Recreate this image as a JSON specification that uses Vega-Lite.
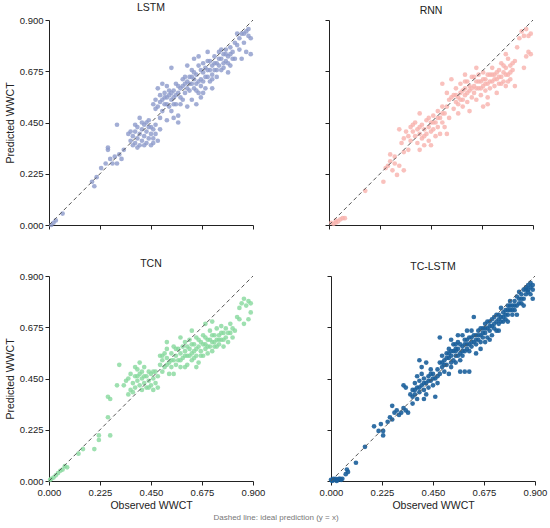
{
  "$schema": "https://vega.github.io/schema/vega-lite/v6.json",
  "padding": {"left": 5, "top": 2, "right": 5, "bottom": 2},
  "title": {"text": "Dashed line: ideal prediction (y = x)", "orient": "bottom", "anchor": "middle", "fontSize": 8, "fontWeight": "normal", "color": "#777", "offset": 3},
  "datasets": {
    "diag": [{"x": 0, "y": 0}, {"x": 0.9, "y": 0.9}],
    "lstm": [
      {"x":0.01,"y":0.0},{"x":0.02,"y":0.01},{"x":0.03,"y":0.02},{"x":0.06,"y":0.05},
      {"x":0.19,"y":0.19},{"x":0.2,"y":0.17},{"x":0.21,"y":0.21},{"x":0.23,"y":0.25},{"x":0.25,"y":0.27},{"x":0.26,"y":0.34},{"x":0.26,"y":0.33},{"x":0.27,"y":0.29},{"x":0.28,"y":0.27},{"x":0.29,"y":0.3},{"x":0.3,"y":0.27},{"x":0.31,"y":0.31},{"x":0.32,"y":0.29},{"x":0.3,"y":0.44},{"x":0.33,"y":0.33},
      {"x":0.36,"y":0.37},{"x":0.37,"y":0.39},{"x":0.38,"y":0.36},{"x":0.38,"y":0.41},{"x":0.39,"y":0.38},{"x":0.39,"y":0.43},{"x":0.4,"y":0.35},{"x":0.4,"y":0.4},{"x":0.4,"y":0.47},{"x":0.41,"y":0.42},{"x":0.41,"y":0.37},{"x":0.42,"y":0.39},{"x":0.42,"y":0.44},{"x":0.43,"y":0.41},{"x":0.43,"y":0.36},{"x":0.44,"y":0.38},{"x":0.44,"y":0.43},{"x":0.45,"y":0.4},{"x":0.45,"y":0.35},{"x":0.46,"y":0.42},{"x":0.46,"y":0.38},{"x":0.47,"y":0.44},{"x":0.47,"y":0.4},{"x":0.48,"y":0.37},{"x":0.37,"y":0.35},{"x":0.35,"y":0.4},{"x":0.41,"y":0.45},{"x":0.44,"y":0.46},{"x":0.49,"y":0.42},
      {"x":0.46,"y":0.53},{"x":0.47,"y":0.55},{"x":0.48,"y":0.52},{"x":0.49,"y":0.57},{"x":0.5,"y":0.55},{"x":0.5,"y":0.5},{"x":0.51,"y":0.58},{"x":0.51,"y":0.53},{"x":0.52,"y":0.56},{"x":0.52,"y":0.61},{"x":0.53,"y":0.52},{"x":0.53,"y":0.57},{"x":0.54,"y":0.55},{"x":0.54,"y":0.5},{"x":0.55,"y":0.59},{"x":0.55,"y":0.56},{"x":0.56,"y":0.53},{"x":0.56,"y":0.62},{"x":0.57,"y":0.58},{"x":0.57,"y":0.48},{"x":0.58,"y":0.56},{"x":0.58,"y":0.6},{"x":0.59,"y":0.64},{"x":0.59,"y":0.55},{"x":0.6,"y":0.58},{"x":0.6,"y":0.62},{"x":0.61,"y":0.6},{"x":0.61,"y":0.52},{"x":0.54,"y":0.69},{"x":0.49,"y":0.47},{"x":0.52,"y":0.46},{"x":0.55,"y":0.47},{"x":0.57,"y":0.45},{"x":0.48,"y":0.6},{"x":0.5,"y":0.62},
      {"x":0.62,"y":0.65},{"x":0.62,"y":0.59},{"x":0.63,"y":0.62},{"x":0.63,"y":0.68},{"x":0.64,"y":0.6},{"x":0.64,"y":0.64},{"x":0.65,"y":0.66},{"x":0.65,"y":0.62},{"x":0.66,"y":0.58},{"x":0.66,"y":0.7},{"x":0.67,"y":0.64},{"x":0.67,"y":0.61},{"x":0.68,"y":0.67},{"x":0.68,"y":0.63},{"x":0.69,"y":0.69},{"x":0.69,"y":0.6},{"x":0.7,"y":0.65},{"x":0.7,"y":0.72},{"x":0.71,"y":0.68},{"x":0.71,"y":0.63},{"x":0.72,"y":0.7},{"x":0.72,"y":0.66},{"x":0.73,"y":0.74},{"x":0.73,"y":0.68},{"x":0.74,"y":0.71},{"x":0.74,"y":0.65},{"x":0.75,"y":0.76},{"x":0.75,"y":0.7},{"x":0.76,"y":0.73},{"x":0.76,"y":0.68},{"x":0.77,"y":0.75},{"x":0.77,"y":0.71},{"x":0.78,"y":0.77},{"x":0.78,"y":0.72},{"x":0.79,"y":0.74},{"x":0.8,"y":0.78},{"x":0.8,"y":0.7},{"x":0.81,"y":0.76},{"x":0.82,"y":0.73},{"x":0.63,"y":0.55},{"x":0.65,"y":0.53},{"x":0.68,"y":0.58},{"x":0.72,"y":0.6},{"x":0.61,"y":0.7},{"x":0.64,"y":0.73},{"x":0.66,"y":0.74},{"x":0.7,"y":0.76},{"x":0.79,"y":0.67},{"x":0.67,"y":0.56},
      {"x":0.83,"y":0.79},{"x":0.84,"y":0.82},{"x":0.85,"y":0.84},{"x":0.86,"y":0.8},{"x":0.86,"y":0.84},{"x":0.87,"y":0.85},{"x":0.88,"y":0.83},{"x":0.89,"y":0.82},{"x":0.88,"y":0.86},{"x":0.87,"y":0.76},{"x":0.89,"y":0.75},{"x":0.84,"y":0.77},{"x":0.83,"y":0.84},{"x":0.82,"y":0.8},{"x":0.85,"y":0.73},
      {"x":0.36,"y":0.41},{"x":0.38,"y":0.44},{"x":0.42,"y":0.35},{"x":0.43,"y":0.45},{"x":0.45,"y":0.43},{"x":0.46,"y":0.36},{"x":0.39,"y":0.34},{"x":0.47,"y":0.51},{"x":0.49,"y":0.54},{"x":0.51,"y":0.56},{"x":0.53,"y":0.59},{"x":0.55,"y":0.53},{"x":0.56,"y":0.57},{"x":0.58,"y":0.53},{"x":0.59,"y":0.61},{"x":0.6,"y":0.65},{"x":0.62,"y":0.62},{"x":0.63,"y":0.65},{"x":0.64,"y":0.67},{"x":0.65,"y":0.59},{"x":0.66,"y":0.63},{"x":0.67,"y":0.68},{"x":0.68,"y":0.71},{"x":0.69,"y":0.65},{"x":0.7,"y":0.68},{"x":0.71,"y":0.72},{"x":0.72,"y":0.64},{"x":0.73,"y":0.71},{"x":0.74,"y":0.68},{"x":0.75,"y":0.73},{"x":0.76,"y":0.77},{"x":0.77,"y":0.69},{"x":0.78,"y":0.75},{"x":0.79,"y":0.71},{"x":0.8,"y":0.75},{"x":0.81,"y":0.73},{"x":0.61,"y":0.63},{"x":0.57,"y":0.61},{"x":0.54,"y":0.58},{"x":0.52,"y":0.53}
    ],
    "rnn": [
      {"x":0.01,"y":0.01},{"x":0.02,"y":0.005},{"x":0.03,"y":0.02},{"x":0.04,"y":0.015},{"x":0.05,"y":0.025},{"x":0.06,"y":0.03},{"x":0.03,"y":0.01},{"x":0.07,"y":0.03},
      {"x":0.16,"y":0.15},{"x":0.24,"y":0.19},
      {"x":0.25,"y":0.25},{"x":0.26,"y":0.26},{"x":0.27,"y":0.28},{"x":0.28,"y":0.24},{"x":0.29,"y":0.27},{"x":0.3,"y":0.22},{"x":0.31,"y":0.26},{"x":0.33,"y":0.24},{"x":0.27,"y":0.31},{"x":0.29,"y":0.3},
      {"x":0.31,"y":0.42},{"x":0.32,"y":0.36},{"x":0.33,"y":0.38},{"x":0.34,"y":0.41},{"x":0.35,"y":0.39},{"x":0.36,"y":0.43},{"x":0.36,"y":0.37},{"x":0.37,"y":0.41},{"x":0.38,"y":0.45},{"x":0.38,"y":0.39},{"x":0.39,"y":0.42},{"x":0.39,"y":0.36},{"x":0.4,"y":0.49},{"x":0.4,"y":0.4},{"x":0.41,"y":0.44},{"x":0.41,"y":0.38},{"x":0.42,"y":0.42},{"x":0.42,"y":0.35},{"x":0.43,"y":0.46},{"x":0.43,"y":0.4},{"x":0.44,"y":0.43},{"x":0.44,"y":0.37},{"x":0.45,"y":0.45},{"x":0.45,"y":0.41},{"x":0.46,"y":0.48},{"x":0.46,"y":0.42},{"x":0.47,"y":0.39},{"x":0.47,"y":0.45},{"x":0.48,"y":0.5},{"x":0.48,"y":0.43},{"x":0.49,"y":0.47},{"x":0.49,"y":0.4},{"x":0.5,"y":0.52},{"x":0.5,"y":0.45},{"x":0.51,"y":0.49},{"x":0.51,"y":0.43},{"x":0.52,"y":0.4},{"x":0.53,"y":0.47},{"x":0.35,"y":0.33},{"x":0.33,"y":0.32},{"x":0.4,"y":0.33},{"x":0.45,"y":0.35},
      {"x":0.5,"y":0.62},{"x":0.52,"y":0.58},{"x":0.54,"y":0.64},{"x":0.53,"y":0.55},{"x":0.55,"y":0.57},{"x":0.55,"y":0.51},{"x":0.56,"y":0.6},{"x":0.56,"y":0.54},{"x":0.57,"y":0.56},{"x":0.57,"y":0.49},{"x":0.58,"y":0.62},{"x":0.58,"y":0.58},{"x":0.59,"y":0.55},{"x":0.59,"y":0.52},{"x":0.6,"y":0.6},{"x":0.6,"y":0.57},{"x":0.61,"y":0.63},{"x":0.61,"y":0.54},{"x":0.62,"y":0.59},{"x":0.62,"y":0.5},{"x":0.63,"y":0.56},{"x":0.63,"y":0.65},{"x":0.64,"y":0.61},{"x":0.64,"y":0.58},{"x":0.65,"y":0.63},{"x":0.65,"y":0.55},{"x":0.66,"y":0.6},{"x":0.66,"y":0.66},{"x":0.67,"y":0.57},{"x":0.67,"y":0.63},{"x":0.68,"y":0.61},{"x":0.68,"y":0.67},{"x":0.69,"y":0.59},{"x":0.69,"y":0.64},{"x":0.7,"y":0.62},{"x":0.7,"y":0.56},{"x":0.71,"y":0.66},{"x":0.71,"y":0.6},{"x":0.72,"y":0.63},{"x":0.72,"y":0.69},{"x":0.73,"y":0.61},{"x":0.73,"y":0.66},{"x":0.74,"y":0.64},{"x":0.74,"y":0.58},{"x":0.75,"y":0.68},{"x":0.75,"y":0.62},{"x":0.76,"y":0.65},{"x":0.76,"y":0.71},{"x":0.77,"y":0.63},{"x":0.77,"y":0.67},{"x":0.78,"y":0.69},{"x":0.78,"y":0.61},{"x":0.79,"y":0.66},{"x":0.79,"y":0.73},{"x":0.8,"y":0.64},{"x":0.8,"y":0.7},{"x":0.81,"y":0.68},{"x":0.82,"y":0.61},{"x":0.82,"y":0.72},{"x":0.78,"y":0.75},{"x":0.65,"y":0.69},{"x":0.6,"y":0.66},{"x":0.7,"y":0.53},{"x":0.68,"y":0.52},
      {"x":0.84,"y":0.82},{"x":0.85,"y":0.85},{"x":0.86,"y":0.83},{"x":0.87,"y":0.86},{"x":0.88,"y":0.83},{"x":0.89,"y":0.84},{"x":0.88,"y":0.76},{"x":0.89,"y":0.75},{"x":0.87,"y":0.74},{"x":0.86,"y":0.69},{"x":0.83,"y":0.78},
      {"x":0.37,"y":0.44},{"x":0.4,"y":0.43},{"x":0.42,"y":0.39},{"x":0.44,"y":0.47},{"x":0.46,"y":0.45},{"x":0.48,"y":0.47},{"x":0.5,"y":0.49},{"x":0.52,"y":0.52},{"x":0.54,"y":0.56},{"x":0.56,"y":0.57},{"x":0.58,"y":0.55},{"x":0.6,"y":0.63},{"x":0.61,"y":0.58},{"x":0.62,"y":0.61},{"x":0.63,"y":0.6},{"x":0.64,"y":0.65},{"x":0.65,"y":0.6},{"x":0.66,"y":0.63},{"x":0.67,"y":0.6},{"x":0.68,"y":0.64},{"x":0.69,"y":0.62},{"x":0.7,"y":0.66},{"x":0.71,"y":0.63},{"x":0.72,"y":0.66},{"x":0.73,"y":0.64},{"x":0.74,"y":0.67},{"x":0.75,"y":0.65},{"x":0.76,"y":0.62},{"x":0.77,"y":0.7},{"x":0.78,"y":0.66},{"x":0.79,"y":0.63},{"x":0.8,"y":0.67},{"x":0.81,"y":0.71},{"x":0.59,"y":0.59},{"x":0.57,"y":0.53}
    ],
    "tcn": [
      {"x":0.005,"y":0.005},{"x":0.01,"y":0.01},{"x":0.02,"y":0.015},{"x":0.03,"y":0.025},{"x":0.04,"y":0.035},{"x":0.05,"y":0.045},{"x":0.06,"y":0.05},{"x":0.07,"y":0.065},{"x":0.08,"y":0.06},
      {"x":0.13,"y":0.12},{"x":0.15,"y":0.14},{"x":0.2,"y":0.14},{"x":0.22,"y":0.18},{"x":0.22,"y":0.2},{"x":0.27,"y":0.2},{"x":0.26,"y":0.28},{"x":0.26,"y":0.37},{"x":0.27,"y":0.36},
      {"x":0.3,"y":0.42},{"x":0.31,"y":0.51},{"x":0.33,"y":0.42},{"x":0.34,"y":0.44},{"x":0.35,"y":0.45},{"x":0.36,"y":0.4},{"x":0.36,"y":0.47},{"x":0.37,"y":0.43},{"x":0.38,"y":0.46},{"x":0.38,"y":0.41},{"x":0.39,"y":0.49},{"x":0.39,"y":0.44},{"x":0.4,"y":0.42},{"x":0.4,"y":0.47},{"x":0.41,"y":0.45},{"x":0.41,"y":0.4},{"x":0.42,"y":0.5},{"x":0.42,"y":0.43},{"x":0.43,"y":0.46},{"x":0.43,"y":0.41},{"x":0.44,"y":0.48},{"x":0.44,"y":0.44},{"x":0.45,"y":0.42},{"x":0.45,"y":0.47},{"x":0.46,"y":0.45},{"x":0.46,"y":0.4},{"x":0.47,"y":0.43},{"x":0.47,"y":0.48},{"x":0.48,"y":0.46},{"x":0.48,"y":0.41},{"x":0.35,"y":0.38},{"x":0.37,"y":0.39},{"x":0.4,"y":0.52},{"x":0.38,"y":0.5},
      {"x":0.49,"y":0.51},{"x":0.49,"y":0.55},{"x":0.5,"y":0.53},{"x":0.5,"y":0.48},{"x":0.51,"y":0.56},{"x":0.51,"y":0.5},{"x":0.52,"y":0.54},{"x":0.52,"y":0.58},{"x":0.53,"y":0.52},{"x":0.53,"y":0.47},{"x":0.54,"y":0.56},{"x":0.54,"y":0.5},{"x":0.55,"y":0.59},{"x":0.55,"y":0.53},{"x":0.56,"y":0.55},{"x":0.56,"y":0.51},{"x":0.57,"y":0.58},{"x":0.57,"y":0.53},{"x":0.58,"y":0.56},{"x":0.58,"y":0.5},{"x":0.59,"y":0.59},{"x":0.59,"y":0.54},{"x":0.6,"y":0.57},{"x":0.6,"y":0.61},{"x":0.61,"y":0.55},{"x":0.61,"y":0.51},{"x":0.62,"y":0.58},{"x":0.62,"y":0.62},{"x":0.63,"y":0.56},{"x":0.63,"y":0.53},{"x":0.64,"y":0.6},{"x":0.64,"y":0.57},{"x":0.65,"y":0.63},{"x":0.65,"y":0.55},{"x":0.66,"y":0.59},{"x":0.66,"y":0.52},{"x":0.67,"y":0.61},{"x":0.67,"y":0.57},{"x":0.68,"y":0.64},{"x":0.68,"y":0.55},{"x":0.69,"y":0.6},{"x":0.69,"y":0.58},{"x":0.7,"y":0.62},{"x":0.7,"y":0.56},{"x":0.71,"y":0.66},{"x":0.71,"y":0.59},{"x":0.72,"y":0.61},{"x":0.72,"y":0.57},{"x":0.73,"y":0.64},{"x":0.73,"y":0.59},{"x":0.74,"y":0.62},{"x":0.74,"y":0.67},{"x":0.75,"y":0.6},{"x":0.75,"y":0.64},{"x":0.76,"y":0.62},{"x":0.76,"y":0.68},{"x":0.77,"y":0.65},{"x":0.77,"y":0.59},{"x":0.78,"y":0.63},{"x":0.78,"y":0.67},{"x":0.79,"y":0.61},{"x":0.8,"y":0.65},{"x":0.8,"y":0.69},{"x":0.81,"y":0.63},{"x":0.82,"y":0.66},{"x":0.55,"y":0.47},{"x":0.6,"y":0.5},{"x":0.65,"y":0.5},{"x":0.58,"y":0.63},{"x":0.63,"y":0.66},{"x":0.69,"y":0.69},{"x":0.72,"y":0.7},{"x":0.52,"y":0.61},
      {"x":0.83,"y":0.72},{"x":0.84,"y":0.76},{"x":0.85,"y":0.78},{"x":0.86,"y":0.8},{"x":0.87,"y":0.77},{"x":0.88,"y":0.79},{"x":0.89,"y":0.74},{"x":0.89,"y":0.78},{"x":0.86,"y":0.69},{"x":0.88,"y":0.71},{"x":0.84,"y":0.71},
      {"x":0.5,"y":0.55},{"x":0.52,"y":0.51},{"x":0.54,"y":0.53},{"x":0.56,"y":0.58},{"x":0.58,"y":0.53},{"x":0.6,"y":0.55},{"x":0.61,"y":0.59},{"x":0.62,"y":0.55},{"x":0.63,"y":0.6},{"x":0.64,"y":0.54},{"x":0.65,"y":0.58},{"x":0.66,"y":0.62},{"x":0.67,"y":0.55},{"x":0.68,"y":0.6},{"x":0.69,"y":0.63},{"x":0.7,"y":0.59},{"x":0.71,"y":0.62},{"x":0.72,"y":0.64},{"x":0.73,"y":0.61},{"x":0.74,"y":0.59},{"x":0.75,"y":0.62},{"x":0.76,"y":0.65},{"x":0.77,"y":0.62},{"x":0.79,"y":0.65},{"x":0.81,"y":0.67},{"x":0.42,"y":0.46},{"x":0.44,"y":0.41},{"x":0.46,"y":0.48},{"x":0.39,"y":0.46},{"x":0.41,"y":0.48}
    ],
    "tclstm": [
      {"x":0.0,"y":0.005},{"x":0.005,"y":0.0},{"x":0.01,"y":0.01},{"x":0.015,"y":0.005},{"x":0.02,"y":0.01},{"x":0.025,"y":0.0},{"x":0.03,"y":0.005},{"x":0.035,"y":0.01},{"x":0.04,"y":0.01},{"x":0.045,"y":0.005},{"x":0.05,"y":0.01},{"x":0.065,"y":0.03},{"x":0.07,"y":0.05},{"x":0.075,"y":0.04},
      {"x":0.11,"y":0.08},{"x":0.15,"y":0.15},{"x":0.19,"y":0.24},{"x":0.21,"y":0.22},{"x":0.22,"y":0.25},{"x":0.23,"y":0.2},{"x":0.23,"y":0.22},{"x":0.25,"y":0.26},{"x":0.26,"y":0.28},{"x":0.27,"y":0.27},{"x":0.27,"y":0.33},{"x":0.28,"y":0.3},{"x":0.29,"y":0.31},{"x":0.3,"y":0.29},{"x":0.31,"y":0.3},{"x":0.32,"y":0.32},{"x":0.33,"y":0.31},{"x":0.34,"y":0.3},{"x":0.32,"y":0.42},{"x":0.33,"y":0.41},{"x":0.36,"y":0.34},{"x":0.35,"y":0.38},
      {"x":0.36,"y":0.4},{"x":0.37,"y":0.43},{"x":0.37,"y":0.38},{"x":0.38,"y":0.41},{"x":0.38,"y":0.46},{"x":0.39,"y":0.44},{"x":0.39,"y":0.39},{"x":0.39,"y":0.53},{"x":0.4,"y":0.42},{"x":0.4,"y":0.47},{"x":0.41,"y":0.4},{"x":0.41,"y":0.45},{"x":0.42,"y":0.43},{"x":0.42,"y":0.38},{"x":0.43,"y":0.46},{"x":0.43,"y":0.41},{"x":0.44,"y":0.44},{"x":0.44,"y":0.49},{"x":0.45,"y":0.42},{"x":0.45,"y":0.47},{"x":0.46,"y":0.45},{"x":0.46,"y":0.37},{"x":0.47,"y":0.49},{"x":0.47,"y":0.43},{"x":0.48,"y":0.47},{"x":0.4,"y":0.5},{"x":0.42,"y":0.52},{"x":0.36,"y":0.37},{"x":0.38,"y":0.36},{"x":0.41,"y":0.36},
      {"x":0.48,"y":0.52},{"x":0.48,"y":0.63},{"x":0.49,"y":0.5},{"x":0.49,"y":0.55},{"x":0.5,"y":0.53},{"x":0.5,"y":0.48},{"x":0.51,"y":0.56},{"x":0.51,"y":0.51},{"x":0.52,"y":0.54},{"x":0.52,"y":0.58},{"x":0.53,"y":0.55},{"x":0.53,"y":0.5},{"x":0.54,"y":0.57},{"x":0.54,"y":0.6},{"x":0.55,"y":0.55},{"x":0.55,"y":0.52},{"x":0.56,"y":0.58},{"x":0.56,"y":0.61},{"x":0.57,"y":0.56},{"x":0.57,"y":0.53},{"x":0.58,"y":0.59},{"x":0.58,"y":0.55},{"x":0.59,"y":0.6},{"x":0.59,"y":0.57},{"x":0.6,"y":0.58},{"x":0.6,"y":0.62},{"x":0.61,"y":0.6},{"x":0.61,"y":0.57},{"x":0.62,"y":0.63},{"x":0.62,"y":0.59},{"x":0.63,"y":0.61},{"x":0.63,"y":0.72},{"x":0.64,"y":0.64},{"x":0.64,"y":0.6},{"x":0.65,"y":0.62},{"x":0.65,"y":0.66},{"x":0.66,"y":0.64},{"x":0.66,"y":0.61},{"x":0.67,"y":0.67},{"x":0.67,"y":0.63},{"x":0.68,"y":0.65},{"x":0.68,"y":0.69},{"x":0.69,"y":0.67},{"x":0.69,"y":0.63},{"x":0.7,"y":0.7},{"x":0.7,"y":0.66},{"x":0.71,"y":0.68},{"x":0.71,"y":0.64},{"x":0.72,"y":0.72},{"x":0.72,"y":0.69},{"x":0.73,"y":0.7},{"x":0.73,"y":0.66},{"x":0.74,"y":0.73},{"x":0.74,"y":0.69},{"x":0.75,"y":0.72},{"x":0.75,"y":0.76},{"x":0.76,"y":0.74},{"x":0.76,"y":0.7},{"x":0.77,"y":0.75},{"x":0.77,"y":0.71},{"x":0.78,"y":0.77},{"x":0.78,"y":0.73},{"x":0.79,"y":0.75},{"x":0.79,"y":0.79},{"x":0.8,"y":0.77},{"x":0.8,"y":0.73},{"x":0.57,"y":0.48},{"x":0.59,"y":0.48},{"x":0.61,"y":0.48},{"x":0.53,"y":0.62},{"x":0.56,"y":0.64},{"x":0.6,"y":0.66},{"x":0.66,"y":0.58},{"x":0.7,"y":0.62},{"x":0.74,"y":0.66},{"x":0.78,"y":0.7},{"x":0.52,"y":0.47},{"x":0.55,"y":0.6},{"x":0.58,"y":0.64},{"x":0.62,"y":0.66},{"x":0.64,"y":0.56},{"x":0.68,"y":0.61},
      {"x":0.81,"y":0.79},{"x":0.81,"y":0.75},{"x":0.82,"y":0.81},{"x":0.82,"y":0.77},{"x":0.83,"y":0.8},{"x":0.83,"y":0.83},{"x":0.84,"y":0.78},{"x":0.84,"y":0.82},{"x":0.85,"y":0.84},{"x":0.85,"y":0.8},{"x":0.86,"y":0.85},{"x":0.86,"y":0.82},{"x":0.87,"y":0.86},{"x":0.87,"y":0.83},{"x":0.88,"y":0.87},{"x":0.88,"y":0.85},{"x":0.89,"y":0.86},{"x":0.89,"y":0.84},{"x":0.88,"y":0.82},{"x":0.85,"y":0.77},{"x":0.82,"y":0.73},{"x":0.89,"y":0.8},
      {"x":0.5,"y":0.51},{"x":0.51,"y":0.54},{"x":0.52,"y":0.56},{"x":0.53,"y":0.57},{"x":0.54,"y":0.53},{"x":0.55,"y":0.58},{"x":0.56,"y":0.55},{"x":0.57,"y":0.6},{"x":0.58,"y":0.57},{"x":0.59,"y":0.62},{"x":0.6,"y":0.6},{"x":0.61,"y":0.63},{"x":0.62,"y":0.61},{"x":0.63,"y":0.64},{"x":0.64,"y":0.62},{"x":0.65,"y":0.64},{"x":0.66,"y":0.67},{"x":0.67,"y":0.65},{"x":0.68,"y":0.67},{"x":0.69,"y":0.7},{"x":0.7,"y":0.68},{"x":0.71,"y":0.71},{"x":0.72,"y":0.67},{"x":0.73,"y":0.73},{"x":0.74,"y":0.71},{"x":0.75,"y":0.7},{"x":0.76,"y":0.72},{"x":0.77,"y":0.73},{"x":0.78,"y":0.75},{"x":0.79,"y":0.77},{"x":0.8,"y":0.75},{"x":0.81,"y":0.77},{"x":0.83,"y":0.78},{"x":0.84,"y":0.8},{"x":0.86,"y":0.84},{"x":0.87,"y":0.84},{"x":0.44,"y":0.47},{"x":0.43,"y":0.44},{"x":0.41,"y":0.43},{"x":0.39,"y":0.41},{"x":0.37,"y":0.4},{"x":0.45,"y":0.45},{"x":0.47,"y":0.46},{"x":0.49,"y":0.52},{"x":0.53,"y":0.52},{"x":0.55,"y":0.57}
    ]
  },
  "spacing": 28,
  "vconcat": [
    {
      "spacing": 69,
      "hconcat": [
        {
          "title": "LSTM",
          "width": 204,
          "height": 205,
          "layer": [
            {
              "data": {"name": "lstm"},
              "mark": {"type": "circle", "size": 22, "opacity": 0.8, "color": "#8c9acb"},
              "encoding": {
                "x": {"field": "x", "type": "quantitative", "scale": {"domain": [0, 0.9], "nice": false}, "axis": {"values": [0, 0.225, 0.45, 0.675, 0.9], "labels": false, "title": null}},
                "y": {"field": "y", "type": "quantitative", "scale": {"domain": [0, 0.9], "nice": false}, "axis": {"values": [0, 0.225, 0.45, 0.675, 0.9], "format": ".3f", "title": "Predicted WWCT"}}
              }
            },
            {
              "data": {"name": "diag"},
              "mark": {"type": "line", "color": "#555", "strokeDash": [4, 3], "strokeWidth": 1},
              "encoding": {"x": {"field": "x", "type": "quantitative"}, "y": {"field": "y", "type": "quantitative"}}
            }
          ]
        },
        {
          "title": "RNN",
          "width": 204,
          "height": 205,
          "layer": [
            {
              "data": {"name": "rnn"},
              "mark": {"type": "circle", "size": 22, "opacity": 0.8, "color": "#f8b2ad"},
              "encoding": {
                "x": {"field": "x", "type": "quantitative", "scale": {"domain": [0, 0.9], "nice": false}, "axis": {"values": [0, 0.225, 0.45, 0.675, 0.9], "labels": false, "title": null}},
                "y": {"field": "y", "type": "quantitative", "scale": {"domain": [0, 0.9], "nice": false}, "axis": {"values": [0, 0.225, 0.45, 0.675, 0.9], "labels": false, "title": null}}
              }
            },
            {
              "data": {"name": "diag"},
              "mark": {"type": "line", "color": "#555", "strokeDash": [4, 3], "strokeWidth": 1},
              "encoding": {"x": {"field": "x", "type": "quantitative"}, "y": {"field": "y", "type": "quantitative"}}
            }
          ]
        }
      ]
    },
    {
      "spacing": 54,
      "hconcat": [
        {
          "title": "TCN",
          "width": 204,
          "height": 205,
          "layer": [
            {
              "data": {"name": "tcn"},
              "mark": {"type": "circle", "size": 22, "opacity": 0.8, "color": "#86d89c"},
              "encoding": {
                "x": {"field": "x", "type": "quantitative", "scale": {"domain": [0, 0.9], "nice": false}, "axis": {"values": [0, 0.225, 0.45, 0.675, 0.9], "format": ".3f", "title": "Observed WWCT"}},
                "y": {"field": "y", "type": "quantitative", "scale": {"domain": [0, 0.9], "nice": false}, "axis": {"values": [0, 0.225, 0.45, 0.675, 0.9], "format": ".3f", "title": "Predicted WWCT"}}
              }
            },
            {
              "data": {"name": "diag"},
              "mark": {"type": "line", "color": "#555", "strokeDash": [4, 3], "strokeWidth": 1},
              "encoding": {"x": {"field": "x", "type": "quantitative"}, "y": {"field": "y", "type": "quantitative"}}
            }
          ]
        },
        {
          "title": "TC-LSTM",
          "width": 204,
          "height": 205,
          "layer": [
            {
              "data": {"name": "tclstm"},
              "mark": {"type": "circle", "size": 22, "opacity": 0.9, "color": "#1b5f9b"},
              "encoding": {
                "x": {"field": "x", "type": "quantitative", "scale": {"domain": [0, 0.9], "nice": false}, "axis": {"values": [0, 0.225, 0.45, 0.675, 0.9], "format": ".3f", "title": "Observed WWCT"}},
                "y": {"field": "y", "type": "quantitative", "scale": {"domain": [0, 0.9], "nice": false}, "axis": {"values": [0, 0.225, 0.45, 0.675, 0.9], "labels": false, "title": null}}
              }
            },
            {
              "data": {"name": "diag"},
              "mark": {"type": "line", "color": "#555", "strokeDash": [4, 3], "strokeWidth": 1},
              "encoding": {"x": {"field": "x", "type": "quantitative"}, "y": {"field": "y", "type": "quantitative"}}
            }
          ]
        }
      ]
    }
  ],
  "config": {
    "font": "Liberation Sans",
    "view": {"stroke": null},
    "axis": {"grid": false, "domainColor": "#222", "tickColor": "#222", "tickSize": 4, "labelFontSize": 9.5, "labelColor": "#222", "labelFlush": false, "labelOverlap": false, "titleFontSize": 10.5, "titleFontWeight": "normal", "titleColor": "#222", "titlePadding": 4},
    "title": {"fontSize": 10.5, "fontWeight": "normal", "color": "#222", "offset": 2}
  }
}
